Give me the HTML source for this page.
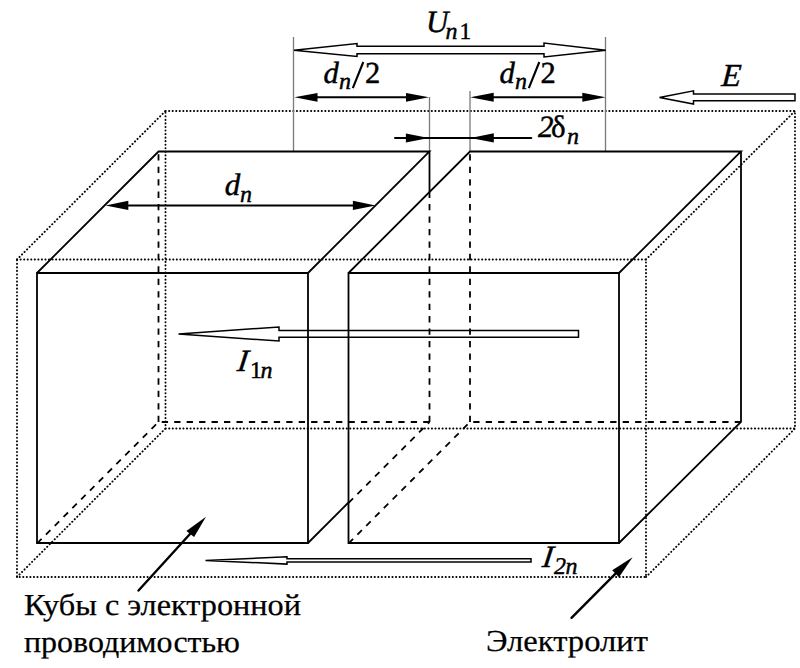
<!DOCTYPE html>
<html><head><meta charset="utf-8">
<style>
html,body{margin:0;padding:0;background:#fff;}
svg{display:block;}
text{font-family:"Liberation Serif",serif;fill:#000;stroke:#000;stroke-width:0.45px;text-rendering:geometricPrecision;}
.it{font-style:italic;}
.cy{stroke-width:0.25px;}
</style></head>
<body>
<svg width="800" height="668" viewBox="0 0 800 668">
<rect width="800" height="668" fill="#fff"/>
<!-- dotted electrolyte box -->
<g fill="none" stroke="#000" stroke-width="1.9" stroke-dasharray="0.2 3.35" stroke-linecap="round">
  <path d="M17 259.5 H646 V577 H17 Z"/>
  <path d="M165.5 111 H795 V428.5 H165.5 Z"/>
  <path d="M17 259.5 L165.5 111 M646 259.5 L795 111 M646 577 L795 428.5 M17 577 L165.5 428.5"/>
</g>
<!-- gray dimension guide lines -->
<g stroke="#7a7a7a" stroke-width="1.3" fill="none">
  <path d="M293.5 37 V151 M605.5 37 V151 M429.5 97 V151.5 M470 91 V151.5"/>
</g>
<!-- dashed hidden edges -->
<g fill="none" stroke="#000" stroke-width="1.8" stroke-dasharray="6.3 6.15">
  <path d="M158.5 422 V151.5"/>
  <path d="M429.5 422 H158.5"/>
  <path d="M158.5 422 L37 543.5" stroke-dashoffset="8.95"/>
  <path d="M429.5 422 V192.5"/>
  <path d="M429.5 422 L348.5 503" stroke-dashoffset="3.95"/>
  <path d="M470 422 V151.5"/>
  <path d="M741 422 H470"/>
  <path d="M470 422 L348.5 543.5" stroke-dashoffset="8.95"/>
</g>
<!-- solid cube edges -->
<g fill="none" stroke="#000" stroke-width="1.8" stroke-linejoin="miter">
  <path d="M37 543 V273 H308 V543 Z"/>
  <path d="M37 273 L158.5 151.5 H429.5 L308 273"/>
  <path d="M429.5 151.5 V192.5"/>
  <path d="M308 543 L348.5 502.5"/>
  <path d="M348.5 543 V273 H619 V543 Z"/>
  <path d="M348.5 273 L470 151.5 H741 L619 273"/>
  <path d="M741 151.5 V422 L619 543"/>
</g>
<!-- open arrows -->
<g fill="none" stroke="#000" stroke-width="1.5" stroke-linejoin="miter">
  <path d="M294 50.2 L357 43.5 V46.3 H544 V43 L605.8 50.2 L544 57 V53.7 H357 V56.5 Z"/>
  <path d="M659.5 97.4 L693.5 90.8 V94 H795 V100.8 H693.5 V104 Z"/>
  <path d="M178.5 334 L279 327 V330.5 H578.5 V337.2 H279 V341 Z"/>
  <path d="M205.5 560.4 L287 556.8 V558.8 H531 V562.1 H287 V564.1 Z"/>
</g>
<!-- filled dimension arrows -->
<g stroke="#000" stroke-width="2" fill="none" stroke-linecap="round">
  <path d="M120 205.4 H360"/>
  <path d="M310 97.3 H414"/>
  <path d="M486 97.2 H590"/>
  <path d="M395 138 H531.3"/>
</g>
<g stroke="#000" stroke-width="2.4" fill="none" stroke-linecap="round">
  <path d="M138.5 590.5 L190 534"/>
  <path d="M571.5 617.8 L615.5 573.7"/>
</g>
<g fill="#000" stroke="none">
  <path d="M105.6 205.4 L128.3 200.7 V210.1 Z"/>
  <path d="M375.6 205.4 L352.9 200.7 V210.1 Z"/>
  <path d="M294.4 97.3 L317.5 92.9 V101.8 Z"/>
  <path d="M429 97.3 L406 92.9 V101.8 Z"/>
  <path d="M470.3 97.2 L493.7 92.8 V101.8 Z"/>
  <path d="M605.6 97.2 L582.3 92.8 V101.8 Z"/>
  <path d="M428.8 138 L405.9 133.4 V142.6 Z"/>
  <path d="M470.5 138 L493.8 133.2 V142.6 Z"/>
  <path d="M206 516.8 L186.4 531 L194.1 537.1 Z"/>
  <path d="M632.6 557.2 L612.2 570.2 L619 577.2 Z"/>
</g>
<!-- labels -->
<text class="it" x="426" y="32.3" font-size="31">U</text>
<text class="it" x="445.6" y="38.6" font-size="24">n</text>
<text x="459.5" y="38.6" font-size="23.5">1</text>

<text class="it" x="323.5" y="83" font-size="30.6">d</text>
<text class="it" x="339" y="89" font-size="24">n</text>
<path d="M363.3 62 L352.8 88.2" stroke="#000" stroke-width="2.1"/>
<text x="365" y="83" font-size="30.5">2</text>

<text class="it" x="499.5" y="83" font-size="30.6">d</text>
<text class="it" x="515" y="89" font-size="24">n</text>
<path d="M539.3 62 L528.8 88.2" stroke="#000" stroke-width="2.1"/>
<text x="540.5" y="83" font-size="30.5">2</text>

<text class="it" transform="translate(721 86) skewX(-4)" font-size="32">E</text>

<text class="it" x="538" y="137" font-size="31">2</text>
<text x="551" y="137" font-size="31">δ</text>
<text class="it" x="567" y="143.5" font-size="24">n</text>

<text class="it" x="224.8" y="195" font-size="31">d</text>
<text class="it" x="240" y="201.7" font-size="24">n</text>

<text class="it" transform="translate(236.5 371.3) skewX(-8)" font-size="31">I</text>
<text x="250" y="378.1" font-size="24">1</text>
<text class="it" x="260.5" y="378.1" font-size="24">n</text>

<text class="it" transform="translate(541.5 567.2) skewX(-8)" font-size="31">I</text>
<text class="it" x="554" y="573.8" font-size="24">2</text>
<text class="it" x="565.5" y="573.8" font-size="24">n</text>

<text class="cy" x="24" y="615.2" font-size="30.5" textLength="277" lengthAdjust="spacingAndGlyphs">Кубы с электронной</text>
<text class="cy" x="24" y="652" font-size="30.5" textLength="216" lengthAdjust="spacingAndGlyphs">проводимостью</text>
<text class="cy" x="486" y="651" font-size="30.5" textLength="162" lengthAdjust="spacingAndGlyphs">Электролит</text>
</svg>
</body></html>
